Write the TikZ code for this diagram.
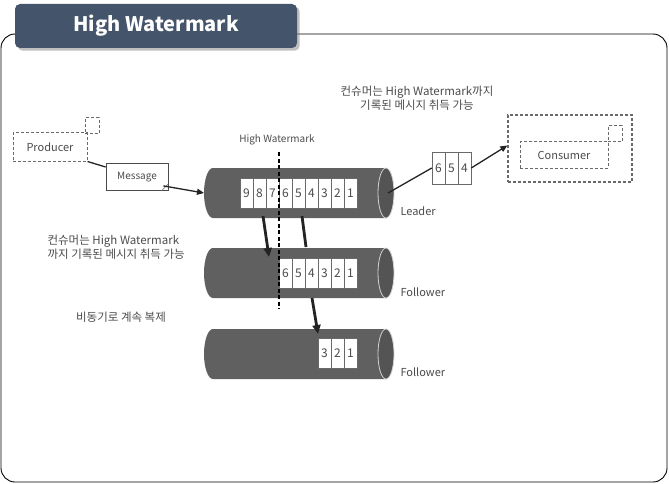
\documentclass[tikz,border=0pt]{standalone}
\usepackage{fontspec}
\setmainfont{Noto Sans CJK KR}
\usepackage{tikz}
\usetikzlibrary{arrows.meta, positioning, shadows}
\definecolor{TabBG}{RGB}{68,84,106}
\definecolor{TubeGray}{RGB}{96,96,96}
\definecolor{TubeEnd}{RGB}{84,84,84}
\definecolor{TubeRim}{RGB}{210,210,210}
\definecolor{InkGray}{RGB}{75,75,75}
\definecolor{DashGray}{RGB}{105,105,105}
\definecolor{ArrowInk}{RGB}{35,35,35}

% one log as a grey tube, named #1, centred at #2
\newcommand{\tube}[2]{%
  \node[tubebox] (#1) at (#2) {};
  \fill[TubeGray] ([xshift=-8pt]#1.north east) -- ([xshift=9pt]#1.north west)
    arc[start angle=90, end angle=270, x radius=9pt, y radius=25pt]
    -- ([xshift=-8pt]#1.south east) -- cycle;
  \draw[TubeRim, fill=TubeEnd, line width=0.8pt] ([xshift=-8pt]#1.east)
    ellipse[x radius=8pt, y radius=25pt];
}

\begin{document}
\begin{tikzpicture}[
  x=1pt, y=-1pt,
  every node/.style={font=\fontsize{11}{13}\selectfont, text=InkGray},
  frame/.style={draw=black, line width=0.9pt, rounded corners=14pt},
  tab/.style={fill=TabBG, rounded corners=5pt, minimum width=282pt, minimum height=44pt,
              font=\fontsize{20}{20}\selectfont\bfseries, text=white, drop shadow},
  tubebox/.style={rectangle, minimum width=190pt, minimum height=50pt, inner sep=0pt, outer sep=0pt},
  cell/.style={draw=DashGray, fill=white, line width=0.5pt, minimum width=13pt, minimum height=30pt,
               inner sep=0pt, font=\fontsize{12}{12}\selectfont},
  dashbox/.style={draw=DashGray, line width=1pt, dash pattern=on 3pt off 2pt, inner sep=0pt},
  msgbox/.style={draw=InkGray, fill=white, line width=0.8pt, minimum width=62pt, minimum height=27pt,
                 inner sep=0pt, font=\fontsize{10}{10}\selectfont},
  link/.style={draw=ArrowInk, line width=1.3pt},
  arrow/.style={link, -{Triangle[length=7pt, width=6pt]}},
  repl/.style={draw=ArrowInk, line width=2.8pt, -{Triangle[length=9pt, width=8pt]}},
  hwline/.style={draw=black, line width=1.4pt, dash pattern=on 4pt off 2.5pt},
  note/.style={align=center, font=\fontsize{11.5}{14}\selectfont},
  lbl/.style={anchor=west}
]
\useasboundingbox (0,0) rectangle (669,484);
\draw[frame] (1,34) rectangle (667,482);
\node[tab] (title) at (156,26) {High Watermark};

\node[note] (topnote) at (417,98) {컨슈머는 High Watermark까지\\기록된 메시지 취득 가능};
\node[note, align=left, anchor=west] (leftnote) at (44,247) {컨슈머는 High Watermark\\까지 기록된 메시지 취득 가능};
\node[note] (asyncnote) at (121,317) {비동기로 계속 복제};

\node[dashbox, minimum width=74pt, minimum height=28pt] (prod) at (50,147) {Producer};
\node[dashbox, minimum width=14pt, minimum height=16pt] (prodtag) at (92,126) {};
\node[msgbox] (msg) at (137,177) {Message};
\draw[DashGray, line width=0.6pt] ([xshift=-7pt]msg.south east) -- ([yshift=7pt]msg.south east);

\node[dashbox, line width=1.3pt, minimum width=124pt, minimum height=67pt] (cons) at (570,148.5) {};
\node[dashbox, minimum width=88pt, minimum height=26pt] (consin) at (564,155) {Consumer};
\node[dashbox, minimum width=14pt, minimum height=16pt] (constag) at (615,134) {};

\tube{ld}{299,193}
\tube{fa}{299,273}
\tube{fb}{299,354}

\foreach \d [count=\i] in {9,8,...,1}
  \node[cell] (lc\i) at ({233.5+13*\i},193) {\d};
\foreach \d [count=\i] in {6,5,...,1}
  \node[cell] (fac\i) at ({272.5+13*\i},273) {\d};
\foreach \d [count=\i] in {3,2,1}
  \node[cell] (fbc\i) at ({311.5+13*\i},353.5) {\d};
\foreach \d [count=\i] in {6,5,4}
  \node[cell, minimum height=32pt] (oc\i) at ({425.5+13*\i},168) {\d};

\node[lbl] (ldname) at (397,211) {Leader};
\node[lbl] (faname) at (397,292) {Follower};
\node[lbl] (fbname) at (397,372) {Follower};

\node[font=\fontsize{10}{10}\selectfont] (hwlabel) at (277,140) {High Watermark};
\coordinate (hwtop) at (279,152);
\coordinate (hwbot) at (279,309);

\coordinate (r1s) at (263,216);
\coordinate (r1e) at (269,257);
\coordinate (r2s) at (302,216);
\coordinate (r2e) at (306,247);
\coordinate (r3s) at (312,298);
\coordinate (r3e) at (318,334);

\draw[link] (prod.south east) -- ([yshift=10pt]msg.west);
\draw[arrow] ([xshift=-5pt, yshift=5pt]msg.south east) -- (ld.west);
\draw[link] ([xshift=-6pt]ld.east) -- (oc1.west);
\draw[arrow] (oc3.east) -- ([yshift=3pt]cons.west);
\draw[repl] (r1s) -- (r1e);
\draw[repl, -] (r2s) -- (r2e);
\draw[repl] (r3s) -- (r3e);
\draw[hwline] (hwtop) -- (hwbot);
\end{tikzpicture}
\end{document}
